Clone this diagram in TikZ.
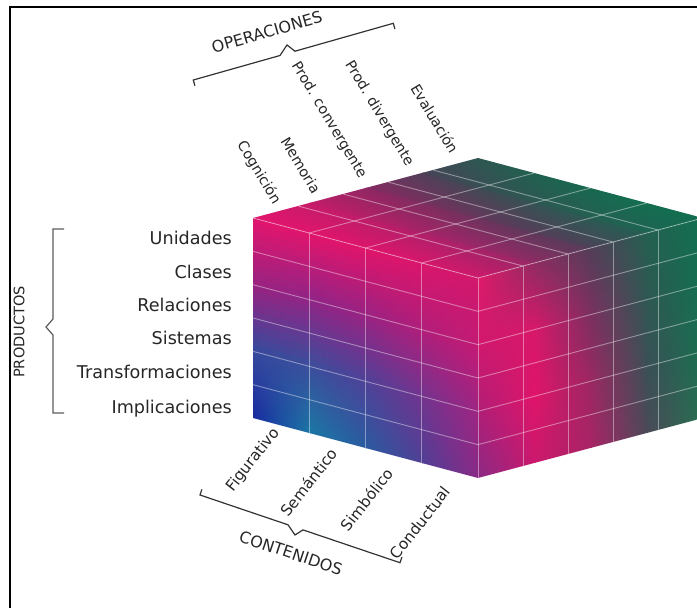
\documentclass[tikz,border=0pt]{standalone}
\usepackage{fontspec}
\setmainfont{DejaVu Sans}
\usepackage{tikz}
\usetikzlibrary{calc}

\newcommand\colorrow[6]{%
  \definecolor{#10}{HTML}{#2}\definecolor{#11}{HTML}{#3}\definecolor{#12}{HTML}{#4}%
  \definecolor{#13}{HTML}{#5}\definecolor{#14}{HTML}{#6}}
\colorrow{fr0}{E3156E}{E2146C}{E0146A}{DA156C}{D0186C}
\colorrow{fr1}{9A2280}{902486}{9A2282}{B01E7A}{C41A74}
\colorrow{fr2}{354A9E}{3A4E9C}{4E4298}{72348E}{A02482}
\colorrow{fr3}{1A2AA0}{1A78A5}{2A5AA0}{503F95}{882A86}
\colorrow{rt0}{E01A6A}{8E2C62}{523E58}{236050}{107050}
\colorrow{rt1}{D0186E}{D8186A}{7A3060}{2E5852}{127050}
\colorrow{rt2}{B01E76}{E0146A}{9A2862}{3A5056}{187050}
\colorrow{rt3}{8A2A85}{CC186C}{A82466}{4A4A58}{257050}
\colorrow{tp0}{E3156E}{C41C6A}{8A2862}{4A4258}{2A5A50}
\colorrow{tp1}{E2146C}{B41F68}{74305E}{355052}{1A6650}
\colorrow{tp2}{DC156C}{A2246A}{5A3A5A}{285C52}{127050}
\colorrow{tp3}{D0186C}{902A64}{4E4058}{1E6452}{107050}
\definecolor{labelgray}{HTML}{262626}
\definecolor{bracketgray}{HTML}{333333}

% face #2 spanned by #3 (colour axis) and #4 (strips), colours #1<row><stop>
\newcommand\shadeface[4]{%
  \begin{scope}
    \clip (#2) -- ($(#2)+(#3)$) -- ($(#2)+(#3)+(#4)$) -- ($(#2)+(#4)$) -- cycle;
    \foreach \strip in {0,...,29}{
      \pgfmathsetmacro\tpos{(\strip+.5)/10}
      \pgfmathtruncatemacro\rw{min(floor(\tpos),2)}
      \pgfmathtruncatemacro\rwn{\rw+1}
      \pgfmathtruncatemacro\pc{round(100*(1-\tpos+\rw))}
      \pgfmathsetmacro\va{\strip/30}
      \pgfmathsetmacro\vb{(\strip+1)/30+.006}
      \foreach \seg in {0,...,3}{
        \pgfmathtruncatemacro\segn{\seg+1}
        \pgfmathsetmacro\ua{\seg/4}
        \pgfmathsetmacro\ub{\segn/4+.006}
        \edef\cspecl{#1\rw\seg!\pc!#1\rwn\seg}
        \edef\cspecr{#1\rw\segn!\pc!#1\rwn\segn}
        \colorlet{cl}{\cspecl}
        \colorlet{cr}{\cspecr}
        \shade[left color=cl,right color=cr]
          ($(#2)+\ua*(#3)+\va*(#4)$) -- ($(#2)+\ub*(#3)+\va*(#4)$)
          -- ($(#2)+\ub*(#3)+\vb*(#4)$) -- ($(#2)+\ua*(#3)+\vb*(#4)$) -- cycle;
      }
    }
  \end{scope}}

\begin{document}
\begin{tikzpicture}[x=1pt,y=-1pt]

\tikzset{
  gridline/.style={white,opacity=.42,line width=.9pt},
  prodlabel/.style={font=\fontsize{17.6}{20}\selectfont,text=labelgray,anchor=base east,inner sep=0pt},
  oplabel/.style={font=\fontsize{14.3}{16}\selectfont,text=labelgray,rotate=-59,anchor=east,inner sep=0pt},
  contlabel/.style={font=\fontsize{15.3}{17}\selectfont,text=labelgray,rotate=52,anchor=east,inner sep=0pt},
  headlabel/.style={font=\fontsize{16}{18}\selectfont,text=labelgray,inner sep=0pt},
  bracketline/.style={draw=bracketgray,line width=1.2pt,line join=miter}
}

\useasboundingbox (0,0) rectangle (697,608);
\draw[line width=2.2pt] (10.3,608) -- (10.3,6.7) -- (697,6.7);

\coordinate (P) at (253,218);
\coordinate (U) at (225,60);
\coordinate (V) at (225,-60);
\coordinate (H) at (0,200);
\coordinate (Q) at ($(P)+(U)$);

\shadeface{fr}{P}{U}{H}
\shadeface{rt}{Q}{V}{H}
\shadeface{tp}{P}{V}{U}

\foreach \i in {1,2,3}{
  \draw[gridline] ($(P)+\i/4*(U)$) -- ($(P)+\i/4*(U)+(H)$);
  \draw[gridline] ($(P)+\i/4*(U)$) -- ($(P)+\i/4*(U)+(V)$);
}
\foreach \i in {1,...,4}{
  \draw[gridline] ($(Q)+\i/5*(V)$) -- ($(Q)+\i/5*(V)+(H)$);
  \draw[gridline] ($(P)+\i/5*(V)$) -- ($(P)+\i/5*(V)+(U)$);
}
\foreach \k in {1,...,5}{
  \draw[gridline] ($(P)+\k/6*(H)$) -- ($(Q)+\k/6*(H)$) -- ($(Q)+(V)+\k/6*(H)$);
}
\draw[gridline] (P) -- (Q) -- ($(Q)+(V)$);
\draw[gridline] (Q) -- ($(Q)+(H)$);

\foreach \txt/\y [count=\n] in {Unidades/238,Clases/272,Relaciones/305,Sistemas/338,Transformaciones/372,Implicaciones/407}
  \node[prodlabel] (prod\n) at (232,\y+6) {\txt};
\foreach \txt/\x/\y [count=\n] in {Cognición/277/203,Memoria/317/192,Prod. convergente/363/177,Prod. divergente/410/165,Evaluación/455/152}
  \node[oplabel] (op\n) at (\x,\y) {\txt};
\foreach \txt/\x/\y [count=\n] in {Figurativo/277/430,Semántico/334/450,Simbólico/390/470,Conductual/447/488}
  \node[contlabel] (cont\n) at (\x,\y) {\txt};

\node[headlabel,rotate=16] (operaciones) at (267,32) {OPERACIONES};
\node[headlabel,rotate=-18.5] (contenidos) at (291,553) {CONTENIDOS};
\node[headlabel,rotate=90,font=\fontsize{14.5}{16}\selectfont] (productos) at (19,332) {PRODUCTOS};

\draw[bracketline] (194.9,85.8) -- (193.3,80) -- (280,55.5) -- (287,45) -- (295,51.2) -- (393.3,23.3) -- (394.9,29.1);
\draw[bracketline] (201.9,489.3) -- (200,495) -- (288,524.8) -- (295,535) -- (303,529.9) -- (400,562.7) -- (401.9,557);
\draw[bracketline,draw=bracketgray!80] (64,229) -- (53,229) -- (53,319) -- (46,327) -- (53,335) -- (53,413) -- (64,413);

\end{tikzpicture}
\end{document}
